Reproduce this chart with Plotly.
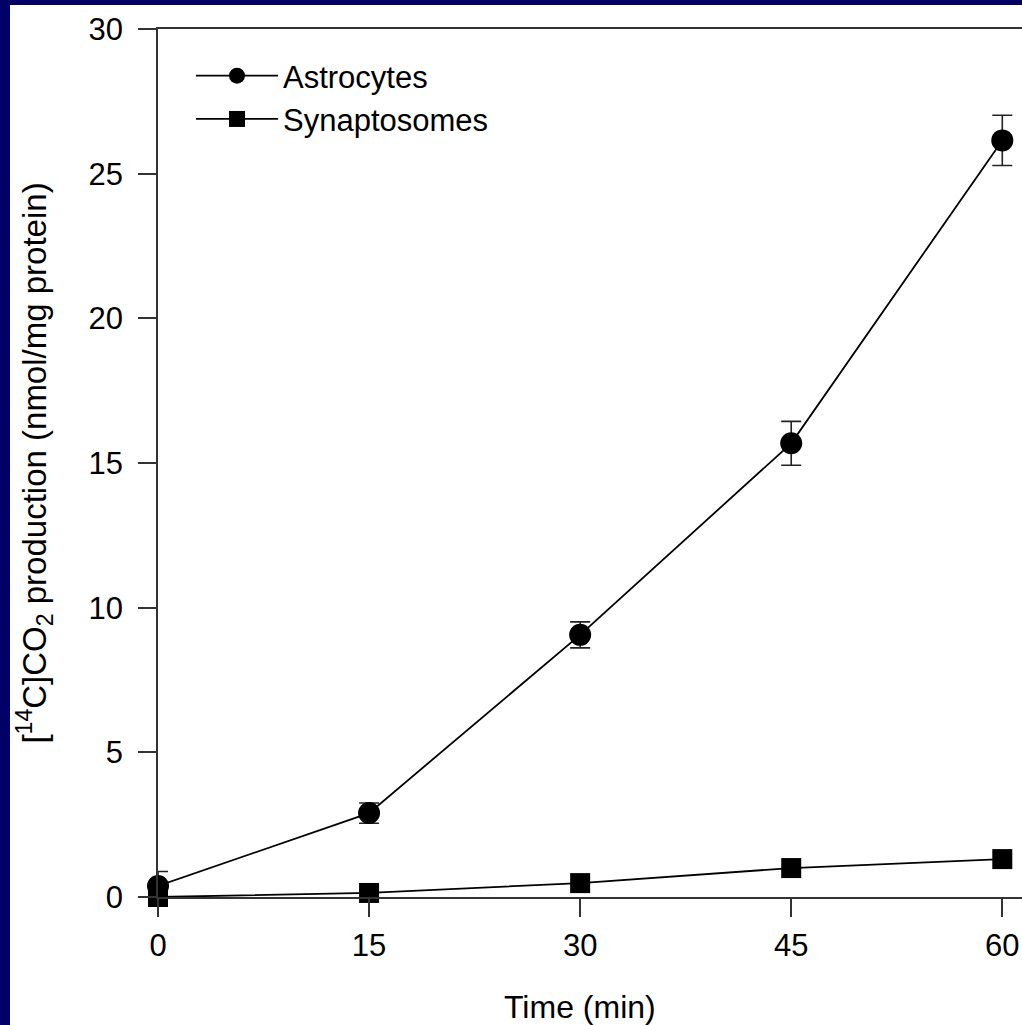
import plotly.graph_objects as go

time_min = [0, 15, 30, 45, 60]
astro = [0.38, 2.9, 9.06, 15.68, 26.15]
astro_err = [0.5, 0.35, 0.45, 0.76, 0.87]
synapto = [0.0, 0.14, 0.48, 1.0, 1.31]

y_ticks = [0, 5, 10, 15, 20, 25, 30]
x_ticks = [0, 15, 30, 45, 60]

FONT = "Arial, Liberation Sans, sans-serif"
NAVY = "#000066"

fig = go.Figure()
fig.add_trace(go.Scatter(
    x=time_min, y=astro, name="Astrocytes", mode="lines+markers",
    line=dict(color="black", width=1.8),
    marker=dict(symbol="circle", size=22, color="black"),
    error_y=dict(type="data", array=astro_err, visible=True, color="#222",
                 thickness=1.6, width=10),
    cliponaxis=False,
))
fig.add_trace(go.Scatter(
    x=time_min, y=synapto, name="Synaptosomes", mode="lines+markers",
    line=dict(color="black", width=1.8),
    marker=dict(symbol="square", size=20, color="black"),
    cliponaxis=False,
))

W, H = 1022, 1025
L, T, B, R = 158, 29, 128, 0
pw, ph = W - L - R, H - T - B

def px_x(p):
    return (p - L) / pw

def px_y(p):
    return (H - B - p) / ph

fig.update_layout(
    width=W, height=H,
    margin=dict(l=L, r=R, t=T, b=B, pad=0),
    paper_bgcolor="white", plot_bgcolor="white",
    font=dict(family=FONT, color="black", size=31),
    showlegend=True,
    legend=dict(
        x=px_x(191), y=px_y(49), xanchor="left", yanchor="top",
        bgcolor="rgba(0,0,0,0)", font=dict(size=31, family=FONT),
        itemwidth=82, tracegroupgap=0,
    ),
    xaxis=dict(
        range=[0, 61.4], tickvals=x_ticks, ticks="outside", ticklen=18,
        tickwidth=1.5, tickcolor="#333", showline=True, linecolor="#333",
        linewidth=1.5, mirror=True, showgrid=False, zeroline=False,
        tickfont=dict(size=31), ticklabelstandoff=2,
    ),
    yaxis=dict(
        range=[0, 30], tickvals=y_ticks, ticks="outside", ticklen=18,
        tickwidth=1.5, tickcolor="#333", showline=True, linecolor="#333",
        linewidth=1.5, mirror=False, showgrid=False, zeroline=False,
        tickfont=dict(size=31), ticklabelstandoff=9,
        title=dict(text="[<sup>14</sup>C]CO<sub>2</sub> production (nmol/mg protein)",
                   font=dict(size=33), standoff=32),
    ),
    annotations=[dict(
        text="Time (min)", x=30, xref="x", y=px_y(1007), yref="paper",
        xanchor="center", yanchor="middle", showarrow=False,
        font=dict(size=32, family=FONT),
    )],
    shapes=[
        dict(type="rect", xref="paper", yref="paper", x0=px_x(0), x1=px_x(10),
             y0=px_y(H), y1=px_y(0), fillcolor=NAVY, line=dict(width=0), layer="above"),
        dict(type="rect", xref="paper", yref="paper", x0=px_x(0), x1=px_x(W),
             y0=px_y(5), y1=px_y(0), fillcolor=NAVY, line=dict(width=0), layer="above"),
    ],
)

fig.write_html(
    "out.html",
    config={"displayModeBar": False},
    post_script="document.body.style.margin='0';document.body.style.padding='0';"
                "document.body.style.overflow='hidden';"
                "document.documentElement.style.overflow='hidden';",
)
